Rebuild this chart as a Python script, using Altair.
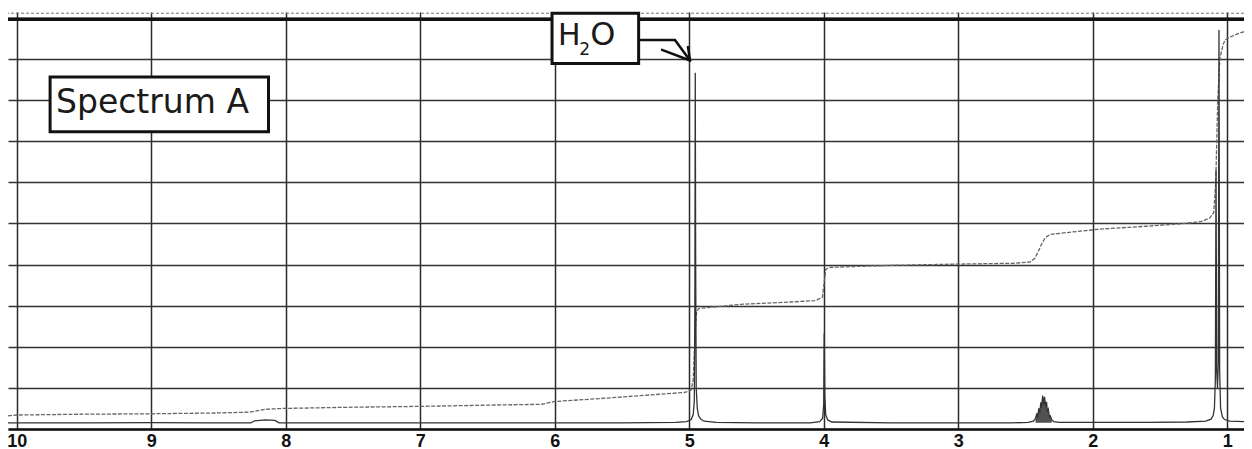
import altair as alt
import pandas as pd

# ---- spectrum trace (chemical shift in ppm, intensity) ----
spec_ppm = [10.065, 9.50, 9.00, 8.60, 8.26, 8.23, 8.15, 8.08, 8.05, 7.50, 7.00, 6.50, 6.00,
            5.50, 5.10, 5.02, 4.985, 4.970, 4.962, 4.958, 4.955, 4.952, 4.948, 4.940, 4.930,
            4.915, 4.890, 4.80, 4.50, 4.10, 4.03, 4.008, 4.000, 3.996, 3.992, 3.985, 3.970,
            3.94, 3.50, 3.00, 2.60, 2.48, 2.44, 2.425, 2.415, 2.41, 2.40, 2.395, 2.385, 2.38,
            2.372, 2.365, 2.358, 2.35, 2.343, 2.337, 2.33, 2.322, 2.315, 2.305, 2.29, 2.25,
            2.00, 1.60, 1.30, 1.16, 1.12, 1.105, 1.095, 1.088, 1.083, 1.078, 1.072, 1.066,
            1.061, 1.056, 1.049, 1.036, 1.02, 0.98, 0.875]
spec_int = [1.5, 1.5, 1.55, 1.5, 1.5, 2.0, 2.2, 2.1, 1.5, 1.5, 1.5, 1.5, 1.5,
            1.5, 1.6, 1.8, 2.3, 3.5, 7.0, 30.0, 86.6, 40.0, 10.0, 5.0, 3.2,
            2.4, 1.9, 1.6, 1.5, 1.5, 1.8, 2.6, 6.0, 23.3, 8.0, 3.5, 2.2,
            1.7, 1.5, 1.5, 1.5, 1.6, 1.9, 2.6, 3.8, 2.9, 5.0, 3.8, 6.5, 5.2,
            8.1, 6.0, 7.8, 5.4, 6.6, 4.2, 4.8, 3.0, 3.2, 2.2, 1.8, 1.6,
            1.6, 1.6, 1.7, 1.9, 2.4, 3.2, 5.0, 12.0, 63.0, 14.0, 10.0, 16.0,
            97.0, 14.0, 5.0, 3.0, 2.3, 1.9, 1.8]
spec_baseline = 1.5

# ---- integral trace ----
integ_ppm = [10.065, 10.0, 9.5, 9.0, 8.5, 8.27, 8.15, 8.02, 7.5, 7.0, 6.5, 6.1, 6.0, 5.66,
             5.37, 5.03, 4.985, 4.97, 4.96, 4.953, 4.945, 4.93, 4.62, 4.3, 4.065, 4.01,
             3.995, 3.985, 3.96, 3.5, 3.0, 2.59, 2.466, 2.43, 2.40, 2.38, 2.35, 2.317,
             2.24, 1.95, 1.60, 1.35, 1.20, 1.13, 1.10, 1.085, 1.07, 1.055, 1.03, 1.016,
             0.98, 0.905, 0.875]
integ_val = [3.2, 3.4, 3.6, 3.7, 3.9, 4.1, 4.8, 5.0, 5.3, 5.5, 5.8, 6.0, 6.7, 7.4,
             8.1, 8.9, 9.5, 12.0, 20.0, 25.0, 28.5, 29.3, 30.3, 30.8, 31.2, 32.0,
             36.0, 38.8, 39.3, 39.8, 40.1, 40.3, 40.6, 41.5, 43.5, 45.0, 46.6, 47.3,
             47.6, 48.6, 49.3, 49.9, 50.4, 51.3, 52.6, 60.0, 80.0, 90.0, 93.5, 94.6,
             95.3, 96.3, 96.6]

# ---- axis ticks ----
x_ticks = [10, 9, 8, 7, 6, 5, 4, 3, 2, 1]
y_grid = [0, 10, 20, 30, 40, 50, 60, 70, 80, 90, 100]

# ---- annotations ----
box_x = [9.752, 6.020]
box_x2 = [8.128, 5.376]
box_y = [85.6, 101.1]
box_y2 = [72.3, 88.9]

label_text = ["Spectrum A", "H", "2", "O"]
label_x = [9.708, 5.975, 5.818, 5.735]
label_y = [76.8, 93.4, 90.95, 93.4]
label_size = [33, 30, 17, 32]

arrow_x = [5.376, 5.106, 5.202, 5.009]
arrow_y = [94.6, 94.6, 92.2, 92.9]
arrow_x2 = [5.106, 4.994, 4.994, 4.994]
arrow_y2 = [94.6, 89.6, 89.6, 89.6]

XS = alt.Scale(domain=[0.875, 10.065], reverse=True, zero=False, nice=False)
YS = alt.Scale(domain=[0, 101.4], zero=False, nice=False)

XA = alt.Axis(values=x_ticks, grid=True, gridColor="#2b2b2b", gridWidth=1.5,
              ticks=False, tickSize=0, domain=True, domainColor="#111111", domainWidth=2.5,
              labelFont="Liberation Sans", labelFontSize=18, labelFontWeight="bold",
              labelColor="#111111", labelPadding=3, labelFlush=False, labelAngle=0,
              format="d", title=None)
YA = alt.Axis(values=y_grid, grid=True, gridColor="#333333", gridWidth=1.4,
              ticks=False, labels=False, domain=False, title=None)

spec_df = pd.DataFrame({"ppm": spec_ppm, "val": spec_int})
integ_df = pd.DataFrame({"ppm": integ_ppm, "val": integ_val})
box_df = pd.DataFrame({"x": box_x, "x2": box_x2, "y": box_y, "y2": box_y2})
lab_df = pd.DataFrame({"t": label_text, "x": label_x, "y": label_y, "s": label_size})
arr_df = pd.DataFrame({"x": arrow_x, "y": arrow_y, "x2": arrow_x2, "y2": arrow_y2})
top_df = pd.DataFrame({"y": [99.65]})
paper_df = pd.DataFrame({"y": [101.1]})

def X(f):
    return alt.X(f, type="quantitative", scale=XS, axis=XA)

def Y(f):
    return alt.Y(f, type="quantitative", scale=YS, axis=YA)

top_line = alt.Chart(top_df).mark_rule(color="#111111", strokeWidth=3.5).encode(y=Y("y"))
paper_line = alt.Chart(paper_df).mark_rule(color="#777777", strokeWidth=1, strokeDash=[3, 2]).encode(y=Y("y"))

integral = alt.Chart(integ_df).mark_line(color="#666666", strokeWidth=1.3, strokeDash=[4, 1.5]).encode(
    x=X("ppm"), y=Y("val"))
multiplet_fill = alt.Chart(spec_df).transform_filter(
    (alt.datum.ppm > 2.30) & (alt.datum.ppm < 2.43)
).mark_area(color="#333333", opacity=0.85, interpolate="monotone").encode(
    x=X("ppm"), y=Y("val"), y2=alt.datum(spec_baseline))
spectrum = alt.Chart(spec_df).mark_line(color="#333333", strokeWidth=1.3).encode(
    x=X("ppm"), y=Y("val"))

boxes = alt.Chart(box_df).mark_rect(fill="white", stroke="#111111", strokeWidth=3).encode(
    x=X("x"), x2="x2", y=Y("y"), y2="y2")
labels = alt.Chart(lab_df).mark_text(align="left", baseline="alphabetic", font="DejaVu Sans",
                                     color="#1a1a1a").encode(
    x=X("x"), y=Y("y"), text="t:N", size=alt.Size("s:Q", scale=None, legend=None))
arrows = alt.Chart(arr_df).mark_rule(color="#111111", strokeWidth=2.5, strokeCap="round").encode(
    x=X("x"), y=Y("y"), x2="x2", y2="y2")

chart = alt.layer(paper_line, top_line, integral, multiplet_fill, spectrum, boxes, arrows, labels).properties(
    width=1236, height=417,
    autosize=alt.AutoSizeParams(type="none"),
    padding={"left": 0, "top": 4, "right": 0, "bottom": 20},
    background="white",
).configure_view(stroke=None)

chart.save("out.html", embed_options={"renderer": "svg", "actions": False})
